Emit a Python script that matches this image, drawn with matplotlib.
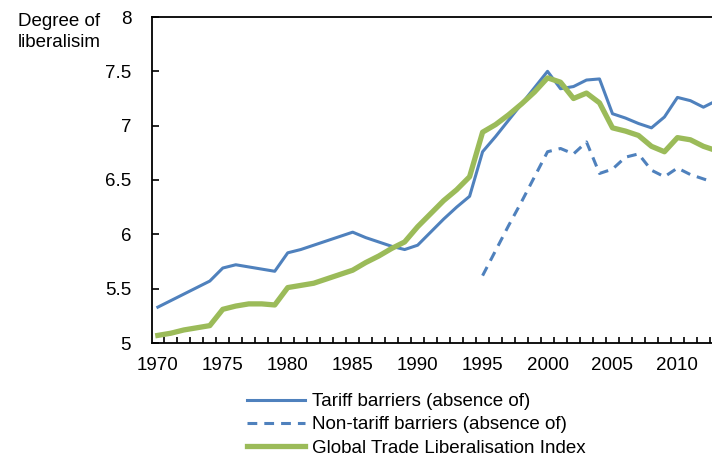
import matplotlib
matplotlib.use("Agg")
import matplotlib.pyplot as plt
import numpy as np
from matplotlib.ticker import FixedLocator

plt.rcParams['font.family'] = ['Liberation Sans', 'DejaVu Sans']

#--------------------------------------
# data
years = list(range(1970, 2014))

tariff = [5.33, 5.39, 5.45, 5.51, 5.57, 5.69, 5.72, 5.70, 5.68, 5.66,
          5.83, 5.86, 5.90, 5.94, 5.98, 6.02, 5.97, 5.93, 5.89, 5.86,
          5.90, 6.02, 6.14, 6.25, 6.35, 6.76, 6.90, 7.05, 7.20, 7.35,
          7.50, 7.34, 7.36, 7.42, 7.43, 7.11, 7.07, 7.02, 6.98, 7.08,
          7.26, 7.23, 7.17, 7.23]

nontariff_years = list(range(1995, 2014))
nontariff = [5.62, 5.85, 6.08, 6.30, 6.53, 6.76, 6.79, 6.74, 6.85, 6.56,
             6.60, 6.71, 6.74, 6.59, 6.53, 6.61, 6.55, 6.51, 6.47]

gtli = [5.07, 5.09, 5.12, 5.14, 5.16, 5.31, 5.34, 5.36, 5.36, 5.35,
        5.51, 5.53, 5.55, 5.59, 5.63, 5.67, 5.74, 5.80, 5.87, 5.93,
        6.07, 6.19, 6.31, 6.41, 6.53, 6.94, 7.01, 7.10, 7.20, 7.31,
        7.44, 7.40, 7.25, 7.30, 7.21, 6.98, 6.95, 6.91, 6.81, 6.76,
        6.89, 6.87, 6.81, 6.77]

yticks = [5, 5.5, 6, 6.5, 7, 7.5, 8]
ytick_labels = ["5", "5.5", "6", "6.5", "7", "7.5", "8"]

labels = ["Tariff barriers (absence of)",
          "Non-tariff barriers (absence of)",
          "Global Trade Liberalisation Index"]

blue = "#4F81BD"
green = "#9BBB59"
fs = 13.5

#--------------------------------------
fig = plt.figure(figsize=(7.12, 4.57), dpi=100)
ax = fig.add_axes([152/712, 114/457, 0.80, 326/457])  # runs off the right edge like the original

ax.plot(years, tariff, color=blue, lw=2.2, label=labels[0])
ax.plot(nontariff_years, nontariff, color=blue, lw=2.2, ls=(0, (3.2, 2.3)), label=labels[1])
ax.plot(years, gtli, color=green, lw=3.8, label=labels[2])

ax.set_xlim(1969.55, 2013.4)
ax.set_ylim(5, 8)

# x axis: labels every 5 years, small inside ticks between years
ax.xaxis.set_major_locator(FixedLocator(range(1970, 2015, 5)))
ax.xaxis.set_minor_locator(FixedLocator(np.arange(1969.5, 2014, 1)))
ax.tick_params(axis='x', which='major', length=0, pad=10, labelsize=fs)
ax.tick_params(axis='x', which='minor', direction='in', length=4, width=1.2)

ax.set_yticks(yticks)
ax.set_yticklabels(ytick_labels)
ax.tick_params(axis='y', direction='in', length=5, width=1.2, pad=15, labelsize=fs)

for s in ['left', 'bottom', 'top']:
    ax.spines[s].set_linewidth(1.3)
ax.spines['right'].set_visible(False)

fig.text(18/712, 1 - 13/457, "Degree of\nliberalisim", fontsize=fs, va='top', ha='left',
         linespacing=1.3)

ax.legend(loc='upper left', bbox_to_anchor=(247/712, 1 - 393/457), bbox_transform=fig.transFigure,
          frameon=False, fontsize=fs, handlelength=3.1, handletextpad=0.35,
          labelspacing=0.33, borderpad=0, borderaxespad=0)

fig.savefig("out.png", dpi=100)
